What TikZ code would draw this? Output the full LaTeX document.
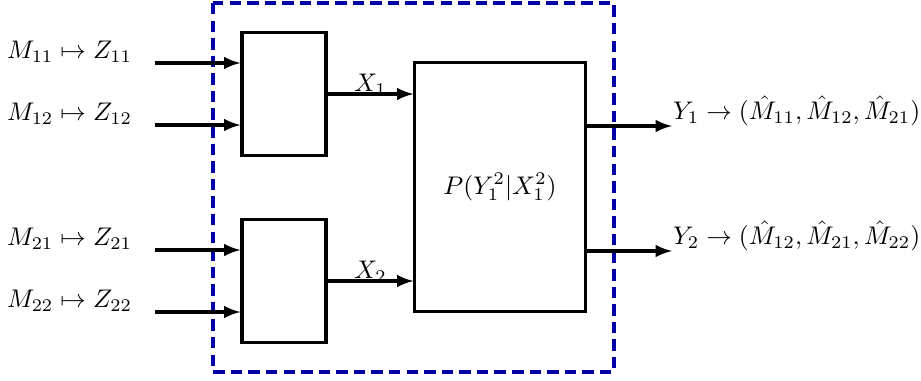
\documentclass[tikz,border=0pt]{standalone}
\usepackage{amsmath}
\usepackage{amssymb}
\usetikzlibrary{arrows}

\begin{document}
\begin{tikzpicture}[x=0.0138cm,y=-0.0138cm,
    enc/.style={draw, very thick, minimum width=1.159cm, minimum height=1.684cm},
    chan/.style={draw, very thick, minimum width=2.346cm, minimum height=3.422cm},
    line/.style={very thick,-latex}]
    \useasboundingbox (0,0) rectangle (921,381);
    % user boundary
    \draw[blue!65!black, very thick, dash pattern=on 4.5pt off 2.4pt] (213,3) rectangle (614,372);
    % encoders and channel
    \node[enc] (enc1) at (284,94) {};
    \node[enc] (enc2) at (284,281) {};
    \node[chan] (ch) at (500,187) {$P(Y_1^2|X_1^2)$};
    % message inputs
    \coordinate (m11) at (155,63);
    \coordinate (m12) at (155,125);
    \coordinate (m21) at (155,250);
    \coordinate (m22) at (155,312);
    \node[anchor=east] (l11) at (141,52) {$M_{11}\mapsto Z_{11}$};
    \node[anchor=east] (l12) at (141,114) {$M_{12}\mapsto Z_{12}$};
    \node[anchor=east] (l21) at (141,239) {$M_{21}\mapsto Z_{21}$};
    \node[anchor=east] (l22) at (141,301) {$M_{22}\mapsto Z_{22}$};
    \draw[line] (m11) -- (m11 -| enc1.west);
    \draw[line] (m12) -- (m12 -| enc1.west);
    \draw[line] (m21) -- (m21 -| enc2.west);
    \draw[line] (m22) -- (m22 -| enc2.west);
    % channel inputs
    \draw[line] (enc1.east) -- (enc1.east -| ch.west) node[midway, above, inner sep=0pt, yshift=-1pt] {$X_1$};
    \draw[line] (enc2.east) -- (enc2.east -| ch.west) node[midway, above, inner sep=0pt, yshift=-1pt] {$X_2$};
    % outputs
    \coordinate (y1) at (672,126);
    \coordinate (y2) at (672,251);
    \draw[line] (y1 -| ch.east) -- (y1);
    \draw[line] (y2 -| ch.east) -- (y2);
    \node[anchor=west] (o1) at (664,111) {$Y_1\rightarrow(\hat{M}_{11},\hat{M}_{12},\hat{M}_{21})$};
    \node[anchor=west] (o2) at (664,236) {$Y_2\rightarrow(\hat{M}_{12},\hat{M}_{21},\hat{M}_{22})$};
\end{tikzpicture}
\end{document}
